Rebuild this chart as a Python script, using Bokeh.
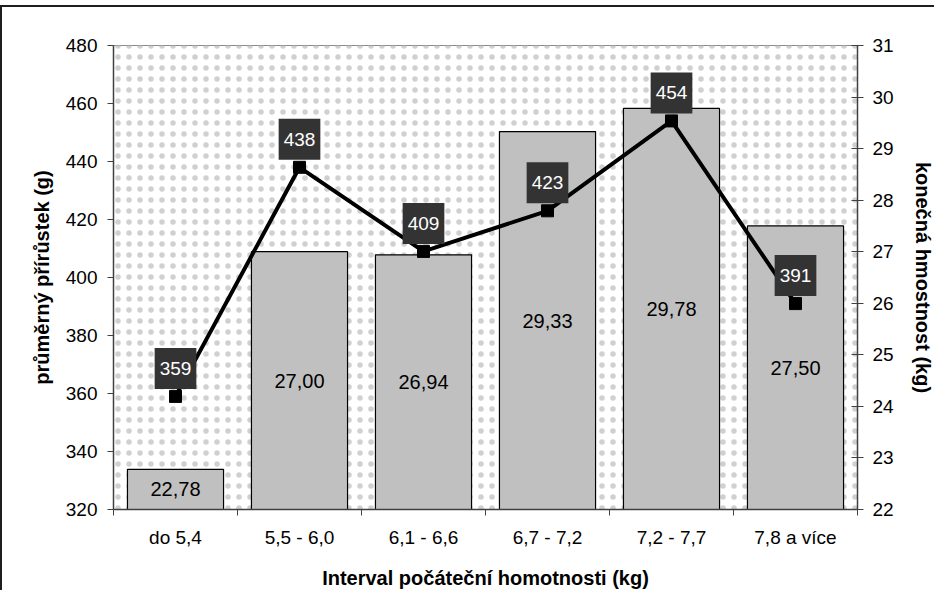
from bokeh.plotting import figure
from bokeh.layouts import column
from bokeh.models import (Range1d, LinearAxis, FixedTicker, ColumnDataSource,
                          LabelSet, BoxAnnotation, Spacer)
from bokeh.embed import file_html
from bokeh.resources import INLINE
from bokeh.core.properties import value

# ---------------- data ----------------
categories = ["do 5,4", "5,5 - 6,0", "6,1 - 6,6", "6,7 - 7,2", "7,2 - 7,7", "7,8 a více"]
final_weight_kg = [22.78, 27.00, 26.94, 29.33, 29.78, 27.50]   # bars, right axis
avg_gain_g = [359, 438, 409, 423, 454, 391]                   # line, left axis
left_ticks = [320, 340, 360, 380, 400, 420, 440, 460, 480]
right_ticks = [22, 23, 24, 25, 26, 27, 28, 29, 30, 31]

x_title = "Interval počáteční homotnosti (kg)"
left_title = "průměrný přírůstek (g)"
right_title = "konečná hmostnost (kg)"

FONT = "Liberation Sans"
AXIS_COLOR = "#404040"

# ---------------- sources ----------------
xpos = list(range(1, len(categories) + 1))
kg_min, kg_max = right_ticks[0], right_ticks[-1]
g_min, g_max = left_ticks[0], left_ticks[-1]

bar_src = ColumnDataSource(dict(
    x=xpos,
    top=final_weight_kg,
    mid=[(kg_min + v) / 2 for v in final_weight_kg],
    txt=[f"{v:.2f}".replace(".", ",") for v in final_weight_kg],
))
line_src = ColumnDataSource(dict(
    x=xpos,
    y=avg_gain_g,
    txt=[str(v) for v in avg_gain_g],
))

# ---------------- figure ----------------
x_end = len(categories) + 0.5
p = figure(width=934, height=585,
           x_range=Range1d(0.5, x_end),
           y_range=Range1d(g_min, g_max),
           output_backend="svg", toolbar_location=None,
           min_border_left=111, min_border_right=72,
           min_border_top=38, min_border_bottom=83)
p.extra_y_ranges = {"kg": Range1d(kg_min, kg_max)}
p.styles = {"border-left": "2px solid #1e1e1e", "border-top": "2px solid #1e1e1e"}

p.background_fill_color = "white"
p.border_fill_color = "white"
p.outline_line_color = "#8a8a8a"
p.outline_line_width = 1
p.xgrid.visible = False
p.ygrid.visible = False

# dotted plot-area background
p.add_layout(BoxAnnotation(level="underlay", fill_alpha=0, line_alpha=0,
                           hatch_pattern="dot", hatch_color="#d0d0d0",
                           hatch_scale=11, hatch_weight=0.5))

# bars (right axis)
p.vbar(x="x", top="top", bottom=kg_min, width=0.775, source=bar_src,
       y_range_name="kg", fill_color="#c0c0c0", line_color="black", line_width=1.2)
p.add_layout(LabelSet(x="x", y="mid", text="txt", source=bar_src, y_range_name="kg",
                      text_align="center", text_baseline="middle",
                      text_font=value(FONT), text_font_size="20px", text_color="black"))

# line (left axis)
p.line(x="x", y="y", source=line_src, line_color="black", line_width=4)
p.scatter(x="x", y="y", source=line_src, marker="square", size=12,
          fill_color="black", line_color="black")
p.text(x="x", y="y", text="txt", source=line_src,
       text_align="center", text_baseline="middle", y_offset=-28,
       text_font=value(FONT), text_font_size="19px", text_color="white",
       background_fill_color="#333333", padding=(5, 5, 14, 14))

# x axis
xa = p.xaxis[0]
xa.ticker = FixedTicker(ticks=xpos, minor_ticks=[i + 0.5 for i in range(len(categories) + 1)])
xa.major_label_overrides = {i: c for i, c in zip(xpos, categories)}
xa.major_tick_line_color = None
xa.major_tick_in = 0
xa.major_tick_out = 0
xa.minor_tick_in = 0
xa.minor_tick_out = 6
xa.minor_tick_line_color = AXIS_COLOR
xa.axis_line_color = AXIS_COLOR
xa.major_label_standoff = 11
xa.axis_label = x_title
xa.axis_label_standoff = 16

# left axis
ya = p.yaxis[0]
ya.ticker = FixedTicker(ticks=left_ticks)
ya.major_tick_in = 0
ya.major_tick_out = 6
ya.minor_tick_line_color = None
ya.axis_line_color = AXIS_COLOR
ya.major_tick_line_color = AXIS_COLOR
ya.major_label_standoff = 10
ya.axis_label = left_title
ya.axis_label_standoff = 10

# right axis
ra = LinearAxis(y_range_name="kg", ticker=FixedTicker(ticks=right_ticks))
ra.major_tick_in = 6
ra.major_tick_out = 6
ra.minor_tick_line_color = None
ra.axis_line_color = AXIS_COLOR
ra.major_tick_line_color = AXIS_COLOR
ra.major_label_standoff = 9
ra.axis_label = right_title
ra.axis_label_standoff = 15
p.add_layout(ra, "right")

for ax in (xa, ya, ra):
    ax.major_label_text_font = FONT
    ax.major_label_text_font_size = "19px"
    ax.major_label_text_color = "black"
    ax.axis_label_text_font = FONT
    ax.axis_label_text_font_size = "20px"
    ax.axis_label_text_font_style = "bold"
    ax.axis_label_text_color = "black"
    ax.axis_line_width = 1.5

layout = column(Spacer(width=934, height=5), p, spacing=0)
open("out.html", "w").write(file_html(layout, INLINE))
